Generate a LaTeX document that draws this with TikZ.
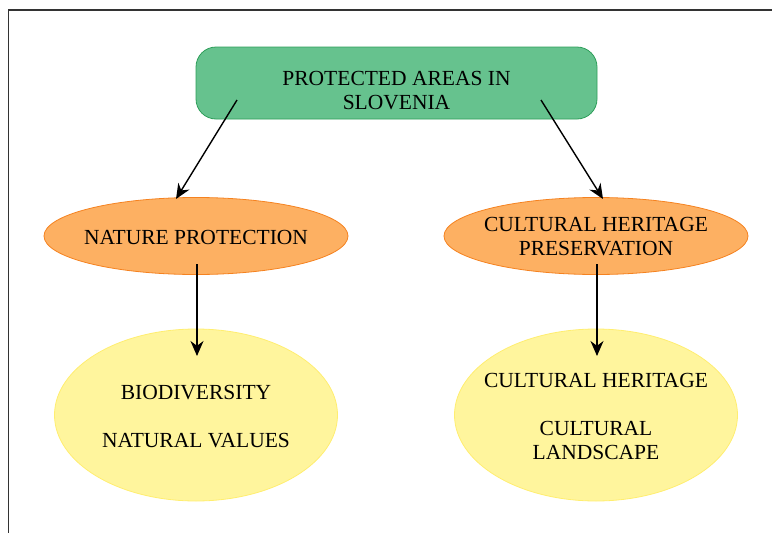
\documentclass[tikz,border=0pt]{standalone}
\usepackage{fontspec}
\setmainfont{Liberation Serif}
\usetikzlibrary{arrows.meta,shapes.geometric}
\definecolor{gfill}{HTML}{66C28E}
\definecolor{gline}{HTML}{2E9E5A}
\definecolor{ofill}{HTML}{FDB062}
\definecolor{oline}{HTML}{F58220}
\definecolor{yfill}{HTML}{FFF59D}
\definecolor{yline}{HTML}{FFEE70}
\begin{document}
\begin{tikzpicture}[x=1pt,y=-1pt,
  lbl/.style={font=\fontsize{21.5}{24}\selectfont,align=center,text=black},
  arr/.style={-{Stealth[length=15pt,width=13pt]},line width=1.4pt,black}]
\useasboundingbox (0,0) rectangle (772,533);
\draw[line width=1.2pt,black!80] (8.5,533) -- (8.5,10) -- (772,10);
\draw[fill=gfill,draw=gline,line width=0.8pt,rounded corners=20pt] (196,47) rectangle (597,119);
\node[lbl] (top) at (396.5,90.5) {PROTECTED AREAS IN\\SLOVENIA};
\draw[fill=ofill,draw=oline,line width=0.8pt] (196,236) ellipse [x radius=152,y radius=38.5];
\node[lbl] (np) at (196,237) {NATURE PROTECTION};
\draw[fill=ofill,draw=oline,line width=0.8pt] (596,236) ellipse [x radius=152,y radius=38.5];
\node[lbl] (ch) at (596,237) {CULTURAL HERITAGE\\PRESERVATION};
\draw[fill=yfill,draw=yline,line width=0.8pt] (196,415) ellipse [x radius=141.5,y radius=86];
\node[lbl] (bio) at (196,416.5) {BIODIVERSITY\\[24pt]NATURAL VALUES};
\draw[fill=yfill,draw=yline,line width=0.8pt] (596,415) ellipse [x radius=141.5,y radius=86];
\node[lbl] (cul) at (596,416.5) {CULTURAL HERITAGE\\[24pt]CULTURAL\\LANDSCAPE};
\coordinate (a1s) at (237,100); \coordinate (a1e) at (176,199);
\coordinate (a2s) at (541,100); \coordinate (a2e) at (603,199);
\coordinate (a3s) at (197,264); \coordinate (a3e) at (197,356);
\coordinate (a4s) at (597,264); \coordinate (a4e) at (597,356);
\draw[arr] (a1s) -- (a1e);
\draw[arr] (a2s) -- (a2e);
\draw[arr] (a3s) -- (a3e);
\draw[arr] (a4s) -- (a4e);
\end{tikzpicture}
\end{document}
